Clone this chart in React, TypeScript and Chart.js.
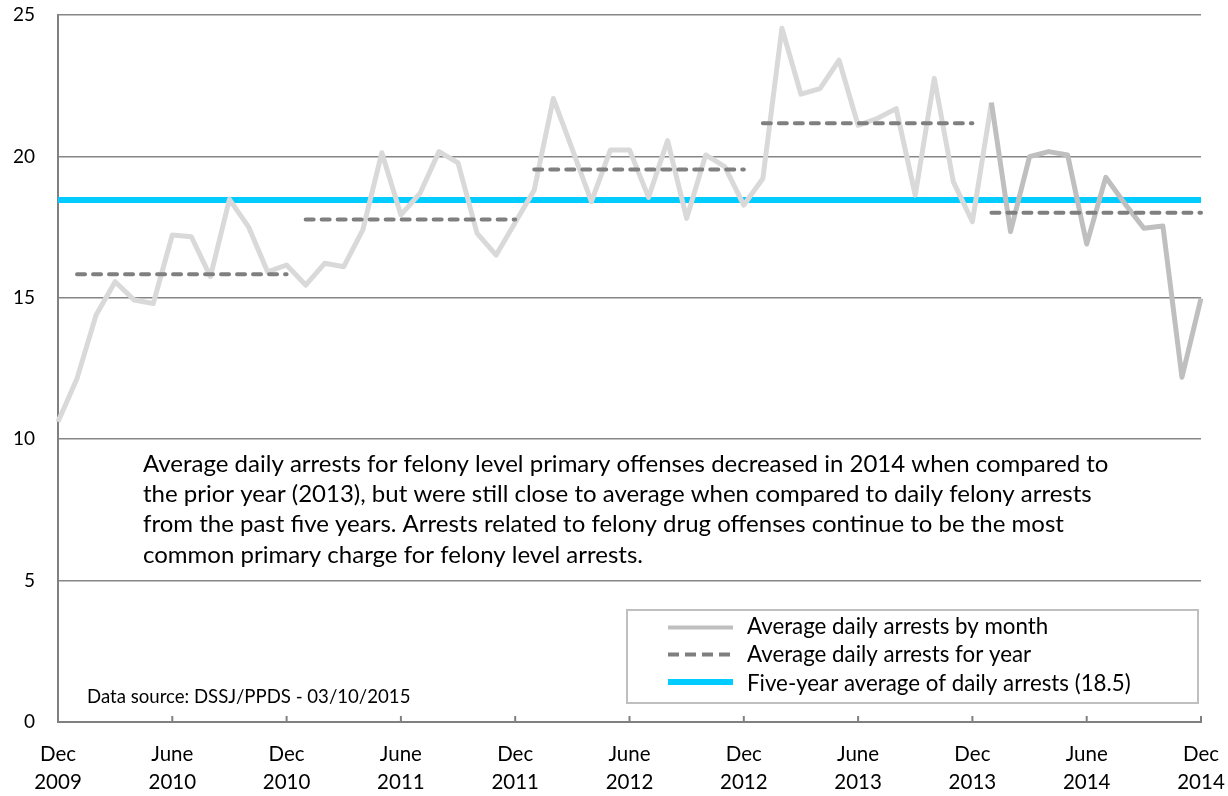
import React, { useEffect, useRef } from "react";
import { Chart, registerables } from "chart.js";

Chart.register(...registerables);

// ---------- DATA ----------
const MONTH_ABBR = ["Jan", "Feb", "Mar", "Apr", "May", "Jun", "Jul", "Aug", "Sep", "Oct", "Nov", "Dec"];
const FIRST_MONTH = 11; // December
const FIRST_YEAR = 2009;
const MONTH_COUNT = 61; // Dec 2009 .. Dec 2014

const monthlyArrests = [
  10.62, 12.15, 14.39, 15.57, 14.92, 14.8, 17.22, 17.16, 15.75, 18.48, 17.51, 15.92,
  16.16, 15.45, 16.22, 16.1, 17.4, 20.13, 17.93, 18.69, 20.17, 19.77, 17.28, 16.51,
  17.66, 18.81, 22.05, 20.25, 18.4, 20.23, 20.23, 18.55, 20.56, 17.81, 20.05, 19.64,
  18.28, 19.22, 24.53, 22.2, 22.4, 23.4, 21.1, 21.34, 21.69, 18.63, 22.76, 19.1,
  17.69, 21.9, 17.34, 19.99, 20.17, 20.05, 16.9, 19.26, 18.33, 17.46, 17.54, 12.19,
  14.98,
];

const highlightStartIndex = 49; // Jan 2014 onward drawn darker

const yearNames = ["2010", "2011", "2012", "2013", "2014"];
const yearlyAverages = [15.83, 17.77, 19.54, 21.17, 18.01];

const fiveYearAverage = 18.46;

const xTickTop = ["Dec", "June", "Dec", "June", "Dec", "June", "Dec", "June", "Dec", "June", "Dec"];
const xTickBottom = ["2009", "2010", "2010", "2011", "2011", "2012", "2012", "2013", "2013", "2014", "2014"];
const xTickEvery = 6;

const yMin = 0;
const yMax = 25;
const yStep = 5;

const annotationLines = [
  "Average daily arrests for felony level primary offenses decreased in 2014 when compared to",
  "the prior year (2013), but were still close to average when compared to daily felony arrests",
  "from the past five years. Arrests related to felony drug offenses continue to be the most",
  "common primary charge for felony level arrests.",
];
const dataSourceText = "Data source: DSSJ/PPDS - 03/10/2015";

const legendLabels = [
  "Average daily arrests by month",
  "Average daily arrests for year",
  "Five-year average of daily arrests (18.5)",
];

// ---------- STYLE ----------
const FONT = "Lato, 'Open Sans', sans-serif";
const LIGHT_GRAY = "#d9d9d9";
const DARK_GRAY = "#bfbfbf";
const DASH_GRAY = "#7f7f7f";
const BLUE = "#00ccff";
const AXIS_GRAY = "#808080";

const monthLabels: string[] = [];
for (let i = 0; i < MONTH_COUNT; i++) {
  const m = (FIRST_MONTH + i) % 12;
  const y = FIRST_YEAR + Math.floor((FIRST_MONTH + i) / 12);
  monthLabels.push(`${MONTH_ABBR[m]} ${y}`);
}

const overlayPlugin = {
  id: "overlay",
  afterDatasetsDraw(chart: any) {
    const ctx = chart.ctx as CanvasRenderingContext2D;
    const xs = chart.scales.x;
    const area = chart.chartArea;
    ctx.save();
    // inward tick marks on x axis
    ctx.strokeStyle = AXIS_GRAY;
    ctx.lineWidth = 2;
    for (let i = xTickEvery; i < MONTH_COUNT; i += xTickEvery) {
      const x = xs.getPixelForValue(i);
      ctx.beginPath();
      ctx.moveTo(x, area.bottom);
      ctx.lineTo(x, area.bottom - 6);
      ctx.stroke();
    }

    // annotation text
    ctx.fillStyle = "#000";
    ctx.textAlign = "left";
    ctx.textBaseline = "alphabetic";
    ctx.font = `24px ${FONT}`;
    annotationLines.forEach((line, i) => {
      ctx.fillText(line, 143, 472 + i * 30.2);
    });

    // data source
    ctx.font = `18.6px ${FONT}`;
    ctx.fillText(dataSourceText, 87, 703);

    // legend
    const lx = 627, ly = 610, lw = 571, lh = 93;
    ctx.fillStyle = "#fff";
    ctx.fillRect(lx, ly, lw, lh);
    ctx.strokeStyle = DARK_GRAY;
    ctx.lineWidth = 2;
    ctx.strokeRect(lx, ly, lw, lh);
    const rows = [627.5, 654.5, 682];
    const baselines = [633.5, 662, 690.5];
    const sx0 = 668, sx1 = 733;
    ctx.lineCap = "butt";
    // row 1
    ctx.strokeStyle = DARK_GRAY;
    ctx.lineWidth = 4;
    ctx.beginPath();
    ctx.moveTo(sx0, rows[0]);
    ctx.lineTo(sx1, rows[0]);
    ctx.stroke();
    // row 2
    ctx.strokeStyle = DASH_GRAY;
    ctx.lineWidth = 4;
    ctx.setLineDash([11, 6]);
    ctx.beginPath();
    ctx.moveTo(sx0, rows[1]);
    ctx.lineTo(sx1, rows[1]);
    ctx.stroke();
    ctx.setLineDash([]);
    // row 3
    ctx.strokeStyle = BLUE;
    ctx.lineWidth = 6;
    ctx.beginPath();
    ctx.moveTo(sx0, rows[2]);
    ctx.lineTo(sx1, rows[2]);
    ctx.stroke();

    ctx.fillStyle = "#000";
    ctx.font = `22.3px ${FONT}`;
    ctx.textBaseline = "alphabetic";
    legendLabels.forEach((t, i) => ctx.fillText(t, 747, baselines[i]));
    ctx.restore();
  },
};

const zeroPadding = (s: any) => {
  s.paddingTop = 0;
  s.paddingBottom = 0;
  s.paddingLeft = 0;
  s.paddingRight = 0;
};

export default function App() {
  const canvasRef = useRef<HTMLCanvasElement | null>(null);

  useEffect(() => {
    document.body.style.margin = "0";
    const canvas = canvasRef.current;
    if (!canvas) return;

    const lightData = monthlyArrests.map((v, i) => (i <= highlightStartIndex ? v : null));
    const darkData = monthlyArrests.map((v, i) => (i >= highlightStartIndex ? v : null));
    const blueData = monthLabels.map(() => fiveYearAverage);

    const yearlyDatasets = yearlyAverages.map((avg, k) => ({
      label: `Average daily arrests for year ${yearNames[k]}`,
      data: monthLabels.map((_, i) => (i >= 1 + 12 * k && i <= 12 + 12 * k ? avg : null)),
      borderColor: DASH_GRAY,
      borderWidth: 4,
      borderDash: [8, 8],
      borderCapStyle: "round" as const,
      pointRadius: 0,
      spanGaps: false,
      order: 0,
    }));

    const chart = new Chart(canvas, {
      type: "line",
      data: {
        labels: monthLabels,
        datasets: [
          ...yearlyDatasets,
          {
            label: legendLabels[0],
            data: lightData,
            borderColor: LIGHT_GRAY,
            borderWidth: 5,
            borderJoinStyle: "round",
            pointRadius: 0,
            order: 2,
          },
          {
            label: legendLabels[0] + " (2014)",
            data: darkData,
            borderColor: DARK_GRAY,
            borderWidth: 5,
            borderJoinStyle: "round",
            pointRadius: 0,
            order: 1,
          },
          {
            label: legendLabels[2],
            data: blueData,
            borderColor: BLUE,
            borderWidth: 6,
            pointRadius: 0,
            order: 3,
          },
        ],
      },
      options: {
        responsive: false,
        animation: false,
        events: [],
        layout: { padding: { top: 15, right: 27, left: 0, bottom: 0 } },
        plugins: {
          legend: { display: false },
          tooltip: { enabled: false },
        },
        scales: {
          x: {
            type: "category",
            offset: false,
            grid: { display: false, drawTicks: false },
            border: { display: true, color: AXIS_GRAY, width: 2 },
            ticks: {
              autoSkip: false,
              maxRotation: 0,
              minRotation: 0,
              padding: 18,
              color: "#000",
              font: { family: FONT, size: 20.5, lineHeight: 1.38 },
              callback: (_v: any, i: number) =>
                i % xTickEvery === 0 ? [xTickTop[i / xTickEvery], xTickBottom[i / xTickEvery]] : "",
            },
            afterFit: (s: any) => {
              s.height = 74;
              zeroPadding(s);
            },
          },
          y: {
            min: yMin,
            max: yMax,
            ticks: {
              stepSize: yStep,
              padding: 23,
              color: "#000",
              font: { family: FONT, size: 19 },
            },
            grid: { color: "#868686", lineWidth: 1.5, drawTicks: false },
            border: { display: true, color: AXIS_GRAY, width: 2 },
            afterFit: (s: any) => {
              s.width = 58;
              zeroPadding(s);
            },
          },
        },
      },
      plugins: [overlayPlugin],
    });

    return () => chart.destroy();
  }, []);

  return (
    <div style={{ position: "absolute", left: 0, top: 0, width: 1228, height: 796 }}>
      <canvas ref={canvasRef} width={1228} height={796} style={{ display: "block" }} />
    </div>
  );
}
